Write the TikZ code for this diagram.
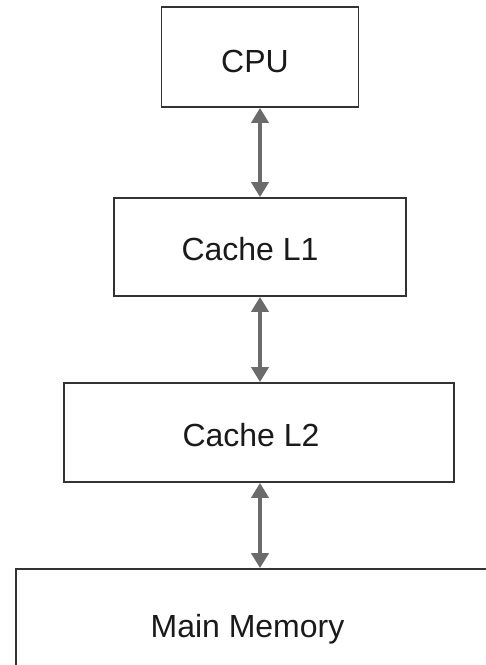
\documentclass[tikz,border=0pt]{standalone}
\usepackage{fontspec}
\setmainfont{Liberation Sans}
\usetikzlibrary{arrows.meta}
\definecolor{boxc}{HTML}{333333}
\definecolor{txtc}{HTML}{1A1A1A}
\definecolor{arrc}{HTML}{6B6B6B}
\begin{document}
\begin{tikzpicture}[x=1pt,y=-1pt,
  box/.style={draw=boxc,line width=1.8pt,inner sep=0pt,fill=white},
  lbl/.style={anchor=base,font=\fontsize{32}{38}\selectfont,text=txtc,inner sep=0pt},
  link/.style={draw=arrc,line width=4pt,{Triangle[width=17pt,length=15pt]}-{Triangle[width=17pt,length=15pt]}}]
  \clip (0,0) rectangle (486,665);
  \fill[white] (0,0) rectangle (486,665);
  \node[box,minimum width=197pt,minimum height=100pt] (cpu) at (260,57) {};
  \node[box,minimum width=292pt,minimum height=98pt] (l1) at (260,247) {};
  \node[box,minimum width=390pt,minimum height=99pt] (l2) at (259,432.5) {};
  \node[box,minimum width=488pt,minimum height=100pt] (mm) at (260,619) {};
  \node[lbl] (tcpu) at (255,72) {CPU};
  \node[lbl] (tl1) at (250,260) {Cache L1};
  \node[lbl] (tl2) at (251,446) {Cache L2};
  \node[lbl] (tmm) at (247.5,637) {Main Memory};
  \draw[link] (cpu.south) -- (cpu.south |- l1.north);
  \draw[link] (cpu.south |- l1.south) -- (cpu.south |- l2.north);
  \draw[link] (cpu.south |- l2.south) -- (cpu.south |- mm.north);
\end{tikzpicture}
\end{document}
